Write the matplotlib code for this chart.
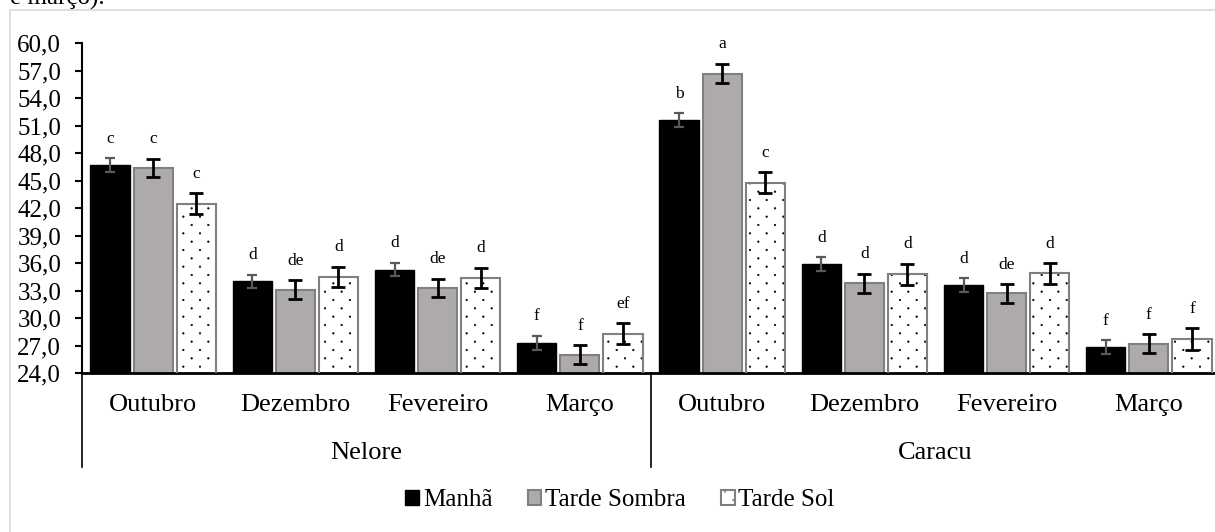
import numpy as np
import matplotlib.pyplot as plt
import matplotlib.hatch as mhatch
from matplotlib.path import Path
from matplotlib.patches import Patch, Rectangle

plt.rcParams['font.family'] = ['Liberation Serif', 'DejaVu Serif']
plt.rcParams['hatch.linewidth'] = 0.4

MESES = ['Outubro', 'Dezembro', 'Fevereiro', 'Março'] * 2
RACAS = ['Nelore', 'Caracu']
SERIES = ['Manhã', 'Tarde Sombra', 'Tarde Sol']

manha = [46.7, 34.0, 35.3, 27.3, 51.6, 35.9, 33.6, 26.8]
sombra = [46.4, 33.1, 33.3, 26.0, 56.7, 33.8, 32.7, 27.2]
sol = [42.5, 34.5, 34.4, 28.3, 44.8, 34.8, 34.9, 27.7]

erro_manha = [0.76, 0.74, 0.76, 0.78, 0.76, 0.75, 0.76, 0.75]
erro_sombra = [1.0, 1.04, 1.0, 1.04, 1.07, 1.05, 1.04, 1.05]
erro_sol = [1.1, 1.1, 1.1, 1.13, 1.11, 1.15, 1.13, 1.16]

letras_manha = ['c', 'd', 'd', 'f', 'b', 'd', 'd', 'f']
letras_sombra = ['c', 'de', 'de', 'f', 'a', 'd', 'de', 'f']
letras_sol = ['c', 'd', 'd', 'ef', 'c', 'd', 'd', 'f']

YTICKS = np.arange(24, 60.1, 3)


# pontilhado esparso tipo Excel (substitui o padrao '.')
class PontosExcel(mhatch.HatchPatternBase):
    def __init__(self, hatch, density):
        self.pontos = []
        if hatch.count('.') > 0:
            for r in range(13):
                if r % 2 == 0:
                    xs = [k / 6 for k in range(7)]
                else:
                    xs = [(k + 0.5) / 6 for k in range(6)]
                for xp in xs:
                    self.pontos.append((xp, r / 12))
        circ = Path.unit_circle()
        self.circ_v = circ.vertices * 0.008
        self.circ_c = circ.codes
        self.num_vertices = len(self.pontos) * len(self.circ_v)

    def set_vertices_and_codes(self, vertices, codes):
        n = len(self.circ_v)
        for i, (xp, yp) in enumerate(self.pontos):
            vertices[i * n:(i + 1) * n] = self.circ_v + [xp, yp]
            codes[i * n:(i + 1) * n] = self.circ_c


mhatch._hatch_types = [PontosExcel if h is mhatch.SmallFilledCircles else h
                       for h in mhatch._hatch_types]

fig = plt.figure(figsize=(12.15, 5.32), dpi=100)
W, H = 1215, 532
ax = fig.add_axes([82 / W, 159 / H, 1138 / W, 329.7 / H])

# borda da area do grafico
fig.patches.append(Rectangle((10 / W, -0.1), 1.2, (522 / H) + 0.1, transform=fig.transFigure,
                             fill=False, edgecolor='#d9d9d9', linewidth=1.2))
fig.text(10 / W, 527 / H, 'e março).', fontsize=18, va='baseline', ha='left')

x = np.arange(len(MESES))
larg = 0.275
passo = 0.303

ax.bar(x - passo, manha, larg, color='black', edgecolor='black', linewidth=1, zorder=2)
ax.bar(x, sombra, larg, color='#aeaaaa', edgecolor='#808080', linewidth=1.5, zorder=2)
ax.bar(x + passo, sol, larg, color='white', edgecolor='black', hatch='.', linewidth=0, zorder=2)
ax.bar(x + passo, sol, larg, fill=False, edgecolor='#808080', linewidth=1.5, zorder=3)

ax.errorbar(x - passo, manha, yerr=erro_manha, fmt='none', ecolor='#595959', elinewidth=1.6,
            capsize=3.6, capthick=1.6, zorder=4)
ax.errorbar(x, sombra, yerr=erro_sombra, fmt='none', ecolor='black', elinewidth=2,
            capsize=4.7, capthick=2, zorder=4)
ax.errorbar(x + passo, sol, yerr=erro_sol, fmt='none', ecolor='black', elinewidth=2,
            capsize=4.7, capthick=2, zorder=4)

for desl, vals, errs, letras in [(-passo, manha, erro_manha, letras_manha),
                                 (0, sombra, erro_sombra, letras_sombra),
                                 (passo, sol, erro_sol, letras_sol)]:
    for xi, v, e, l in zip(x, vals, errs, letras):
        ax.annotate(l, (xi + desl, v + e), xytext=(0, 11), textcoords='offset points',
                    ha='center', va='baseline', fontsize=12.5)

ax.set_xlim(-0.5, 7.5)
ax.set_ylim(24, 60)
ax.set_yticks(YTICKS)
ax.set_yticklabels([f'{v:.1f}'.replace('.', ',') for v in YTICKS], fontsize=18)
ax.tick_params(axis='y', length=5, width=1.5, pad=10, direction='out')
ax.set_xticks([])

for s in ['top', 'right']:
    ax.spines[s].set_visible(False)
ax.spines['left'].set_linewidth(1.5)
ax.spines['bottom'].set_linewidth(2)

tr = ax.get_xaxis_transform()
for xi, mes in zip(x, MESES):
    ax.text(xi, -0.097, mes, transform=tr, ha='center', va='center', fontsize=19)
for i, raca in enumerate(RACAS):
    ax.text(1.5 + 4 * i, -0.243, raca, transform=tr, ha='center', va='center', fontsize=19)
for xs in [-0.5, 3.5, 7.5]:
    ax.plot([xs, xs], [0, -0.285], transform=tr, color='black', linewidth=1.2, clip_on=False)

handles = [Patch(facecolor='black', edgecolor='black'),
           Patch(facecolor='#aeaaaa', edgecolor='#808080', linewidth=1.5),
           Patch(facecolor='white', edgecolor='#808080', hatch='.', linewidth=1.5)]
fig.legend(handles, SERIES, loc='center', bbox_to_anchor=(620 / W, 32 / H), ncol=3, frameon=False,
           fontsize=18, handlelength=0.55, handleheight=0.55, handletextpad=0.15, columnspacing=1.4)

fig.savefig('out.png', dpi=100)
